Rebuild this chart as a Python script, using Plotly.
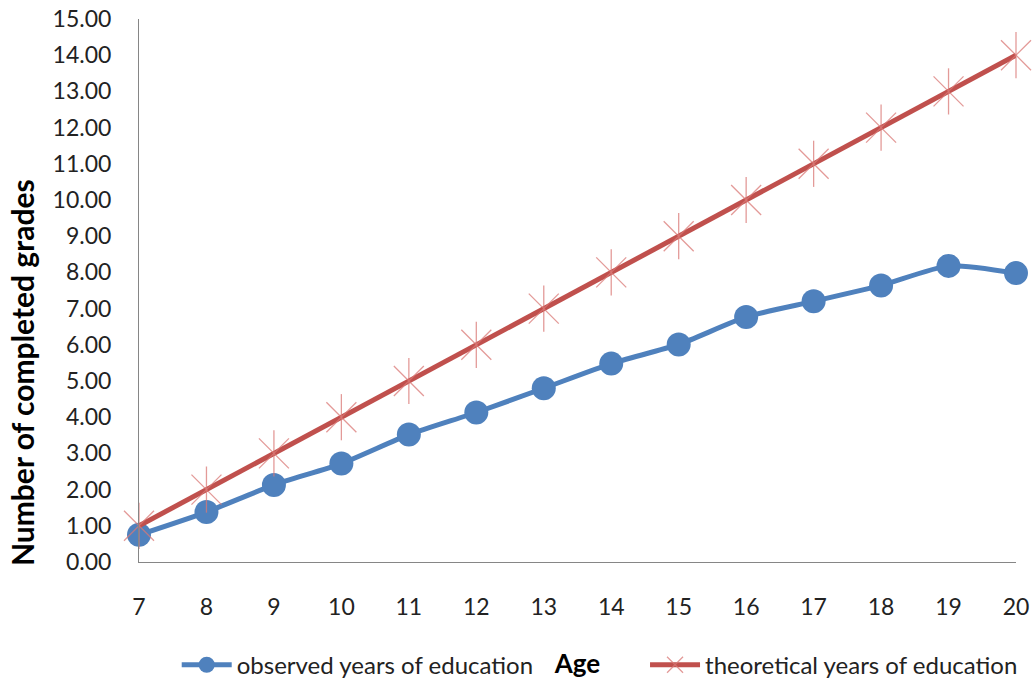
import plotly.graph_objects as go

ages = [7, 8, 9, 10, 11, 12, 13, 14, 15, 16, 17, 18, 19, 20]
observed = [0.75, 1.38, 2.13, 2.72, 3.52, 4.13, 4.80, 5.48, 6.01, 6.77, 7.20, 7.64, 8.18, 7.98]
theoretical = [1, 2, 3, 4, 5, 6, 7, 8, 9, 10, 11, 12, 13, 14]
y_ticks = [i for i in range(16)]
y_title = "Number of completed grades"
x_title = "Age"

FONT = "Lato"
BLUE = "#4f81bd"
RED = "#c0504d"
STAR = "rgba(217,120,118,0.75)"

fig = go.Figure()
fig.add_trace(go.Scatter(
    x=ages, y=observed, mode="lines+markers", name="observed years of education",
    line=dict(color=BLUE, width=5, shape="spline", smoothing=0.6),
    marker=dict(symbol="circle", size=24, color=BLUE),
    cliponaxis=False, legend="legend",
))
fig.add_trace(go.Scatter(
    x=ages, y=theoretical, mode="lines+markers", name="theoretical years of education",
    line=dict(color=RED, width=5),
    marker=dict(symbol="x-thin-open", size=30, color=STAR, line=dict(color=STAR, width=1.3)),
    cliponaxis=False, legend="legend2",
))
fig.add_trace(go.Scatter(
    x=ages, y=theoretical, mode="markers", showlegend=False, hoverinfo="skip",
    marker=dict(symbol="line-ns-open", size=33, color=STAR, line=dict(color=STAR, width=1.3)),
    cliponaxis=False,
))

leg_common = dict(orientation="h", yanchor="middle", y=-0.19, xanchor="left",
                  font=dict(family=FONT, size=24, color="#222"), bgcolor="rgba(0,0,0,0)",
                  itemwidth=50)

fig.update_layout(
    width=1033, height=684,
    margin=dict(l=139, r=17, t=19, b=122, autoexpand=False),
    paper_bgcolor="white", plot_bgcolor="white",
    font=dict(family=FONT, size=23, color="#222"),
    showlegend=True,
    legend=dict(x=0.043, **leg_common),
    legend2=dict(x=0.577, **leg_common),
    xaxis=dict(range=[7, 20], tickvals=ages, ticktext=[str(a) for a in ages],
               showgrid=False, zeroline=False, showline=True, linecolor="#868686", linewidth=1,
               ticks="outside", ticklen=0, ticklabelstandoff=24, automargin=False,
               tickfont=dict(family=FONT, size=23, color="#222"),
               title=dict(text=f"<b>{x_title}</b>", font=dict(family=FONT, size=26, color="black"), standoff=36)),
    yaxis=dict(range=[0, 15], tickvals=y_ticks, ticktext=[f"{v:.2f}" for v in y_ticks],
               showgrid=False, zeroline=False, showline=True, linecolor="#868686", linewidth=1,
               ticks="outside", ticklen=0, ticklabelstandoff=22, automargin=False,
               tickfont=dict(family=FONT, size=23, color="#222")),
    annotations=[dict(text=f"<b>{y_title}</b>", textangle=-90, xref="paper", yref="paper",
                      x=-0.1334, y=0.348, xanchor="center", yanchor="middle", showarrow=False,
                      font=dict(family=FONT, size=30, color="black"))],
)

fig.write_html("out.html", post_script="document.body.style.margin='0';",
               config={"displayModeBar": False})
